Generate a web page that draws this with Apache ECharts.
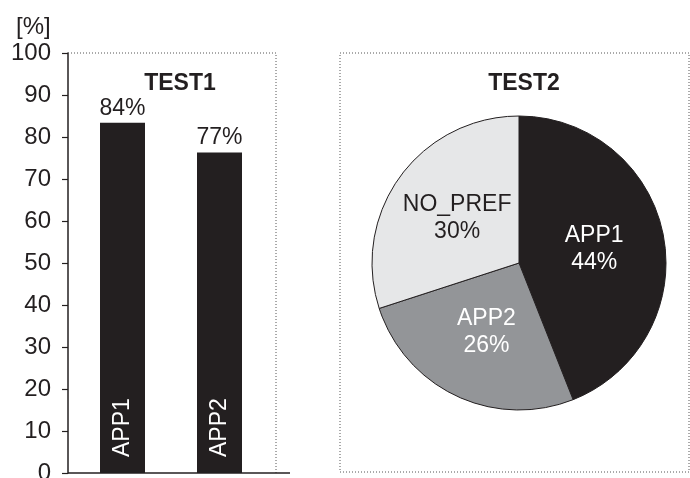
<!DOCTYPE html>
<html>
<head>
<meta charset="utf-8">
<script src="https://cdn.jsdelivr.net/npm/echarts@6/dist/echarts.min.js"></script>
<style>
  html, body { margin: 0; padding: 0; background: #fff; }
  #chart { width: 690px; height: 478px; }
</style>
</head>
<body>
<div id="chart"></div>
<script>
// TEST1 bar data
const barCategories = ['APP1', 'APP2'];
const barValues = [83.4, 76.3];
const barLabels = ['84%', '77%'];
const yTicks = [0, 10, 20, 30, 40, 50, 60, 70, 80, 90, 100];

// TEST2 pie data
const pieNames = ['APP1', 'APP2', 'NO_PREF'];
const pieValues = [44, 26, 30];
const pieColors = ['#231f20', '#939598', '#e6e7e8'];
const pieTextColors = ['#ffffff', '#ffffff', '#231f20'];

const ink = '#231f20';
const font = 'Liberation Sans, Arial, sans-serif';

const chart = echarts.init(document.getElementById('chart'), null, { renderer: 'canvas' });

chart.setOption({
    animation: false,
    backgroundColor: '#fff',
    title: [
        { text: '[%]', left: 11, top: 10, textStyle: { fontFamily: font, fontSize: 24, fontWeight: 'normal', color: ink } },
        { text: 'TEST1', left: 175, top: 67, textAlign: 'center', textStyle: { fontFamily: font, fontSize: 23, fontWeight: 'bold', color: ink } },
        { text: 'TEST2', left: 519, top: 67, textAlign: 'center', textStyle: { fontFamily: font, fontSize: 23, fontWeight: 'bold', color: ink } }
    ],
    grid: { left: 74, top: 53, width: 194, bottom: 5, outerBoundsMode: 'none', containLabel: false },
    xAxis: {
        type: 'category',
        data: barCategories,
        z: 10,
        axisLine: { show: false },
        axisTick: { show: false },
        axisLabel: {
            inside: true,
            rotate: 90,
            margin: 16,
            color: '#fff',
            fontFamily: font,
            fontSize: 23
        }
    },
    yAxis: {
        type: 'value',
        min: yTicks[0],
        max: yTicks[yTicks.length - 1],
        interval: 10,
        offset: 6,
        axisLine: { show: true, lineStyle: { color: ink, width: 1.5 } },
        axisTick: { show: true, length: 6, lineStyle: { color: ink, width: 1.2 } },
        splitLine: { show: false },
        axisLabel: { color: ink, fontFamily: font, fontSize: 24, margin: 17 }
    },
    graphic: [
        // dotted frame of the bar panel
        { type: 'polyline', shape: { points: [[68, 53], [276, 53], [276, 473]] }, style: { stroke: '#555', lineWidth: 1, lineDash: [1, 2], fill: null }, z: 1 },
        // x axis line
        { type: 'line', shape: { x1: 68, y1: 473, x2: 290, y2: 473 }, style: { stroke: ink, lineWidth: 1.5 }, z: 10 },
        // dotted frame of the pie panel
        { type: 'rect', shape: { x: 340, y: 53, width: 349, height: 419 }, style: { stroke: '#555', lineWidth: 1, lineDash: [1, 2], fill: null }, z: 1 }
    ],
    series: [
        {
            type: 'bar',
            data: barValues,
            barWidth: 45,
            itemStyle: { color: ink },
            label: {
                show: true,
                position: 'top',
                distance: 3,
                color: ink,
                fontFamily: font,
                fontSize: 23,
                formatter: p => barLabels[p.dataIndex]
            }
        },
        {
            type: 'pie',
            center: [519, 263],
            radius: 147,
            startAngle: 90,
            clockwise: true,
            data: pieNames.map((n, i) => ({
                name: n,
                value: pieValues[i],
                itemStyle: { color: pieColors[i] },
                label: { color: pieTextColors[i] }
            })),
            itemStyle: { borderColor: ink, borderWidth: 1 },
            label: {
                show: true,
                position: 'inside',
                fontFamily: font,
                fontSize: 23,
                lineHeight: 27,
                formatter: p => p.name + '\n' + p.value + '%'
            },
            labelLine: { show: false },
            emphasis: { disabled: true }
        }
    ]
});
</script>
</body>
</html>
